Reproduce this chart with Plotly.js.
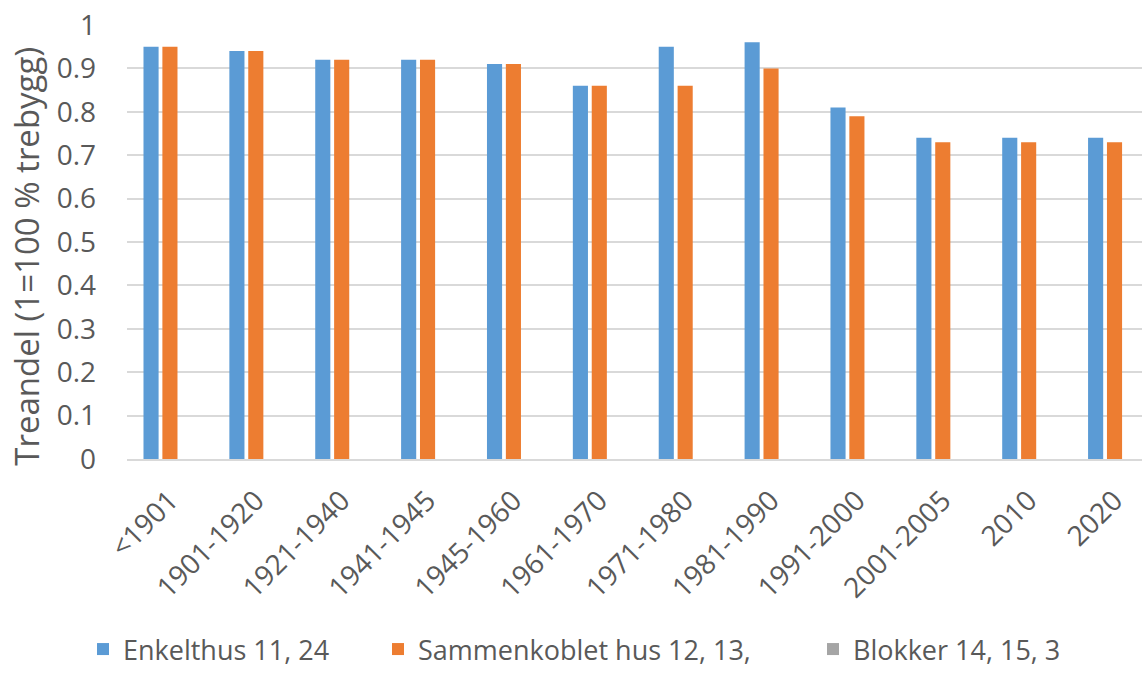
<!DOCTYPE html>
<html>
<head>
<meta charset="utf-8">
<script src="https://cdn.plot.ly/plotly-3.0.1.min.js"></script>
<style>
  html, body { margin: 0; padding: 0; background: #ffffff; overflow: hidden; }
  #chart { width: 1142px; height: 674px; }
</style>
</head>
<body>
<div id="chart"></div>
<script>
// Construction periods
const categories = ['<1901', '1901-1920', '1921-1940', '1941-1945', '1945-1960', '1961-1970',
                    '1971-1980', '1981-1990', '1991-2000', '2001-2005', '2010', '2020'];

// Share of timber construction per building type (1 = 100 % trebygg)
const enkelthus    = [0.95, 0.94, 0.92, 0.92, 0.91, 0.86, 0.95, 0.96, 0.81, 0.74, 0.74, 0.74];
const sammenkoblet = [0.95, 0.94, 0.92, 0.92, 0.91, 0.86, 0.86, 0.90, 0.79, 0.73, 0.73, 0.73];
const blokker      = [null, null, null, null, null, null, null, null, null, null, null, null];

const seriesNames = ['Enkelthus 11, 24', 'Sammenkoblet hus 12, 13,', 'Blokker 14, 15, 3'];
const yTitle = 'Treandel (1=100 % trebygg)';

const FONT = '"Open Sans", "Noto Sans", sans-serif';
const TEXT = '#595959';
const GRID = '#d9d9d9';

const traces = [
  { type: 'bar', name: seriesNames[0], x: categories, y: enkelthus,
    marker: { color: '#5b9bd5' }, legend: 'legend', hoverinfo: 'x+y' },
  { type: 'bar', name: seriesNames[1], x: categories, y: sammenkoblet,
    marker: { color: '#ed7d31' }, legend: 'legend2', hoverinfo: 'x+y' },
  { type: 'bar', name: seriesNames[2], x: categories, y: blokker,
    marker: { color: '#a5a5a5' }, legend: 'legend3', hoverinfo: 'x+y' }
];

// One legend box per series so each entry sits at its own horizontal position
function legendAt(x) {
  return {
    orientation: 'h', xref: 'container', yref: 'container',
    x: x, xanchor: 'left', y: -0.006, yanchor: 'bottom',
    bgcolor: 'rgba(0,0,0,0)', borderwidth: 0,
    font: { family: FONT, size: 27, color: TEXT }
  };
}

const layout = {
  width: 1142,
  height: 674,
  margin: { l: 127, r: 0, t: 25, b: 215, pad: 0 },
  paper_bgcolor: '#ffffff',
  plot_bgcolor: '#ffffff',
  barmode: 'group',
  bargap: 0.34,
  bargroupgap: 0.2,
  showlegend: true,
  legend: legendAt(0.0727),
  legend2: legendAt(0.331),
  legend3: legendAt(0.7119),
  xaxis: {
    type: 'category',
    range: [-0.5, 11.32],
    tickangle: -45,
    ticks: '',
    showgrid: false,
    zeroline: false,
    showline: true,
    linecolor: GRID,
    linewidth: 2,
    ticklabelstandoff: 12,
    automargin: false,
    tickfont: { family: FONT, size: 28, color: TEXT }
  },
  yaxis: {
    range: [0, 1],
    dtick: 0.1,
    tick0: 0,
    ticks: '',
    showgrid: true,
    gridcolor: GRID,
    gridwidth: 2,
    zeroline: false,
    showline: false,
    automargin: false,
    ticklabelstandoff: 30,
    tickfont: { family: FONT, size: 28, color: TEXT }
  },
  annotations: [{
    text: yTitle,
    textangle: -90,
    xref: 'paper', yref: 'paper',
    x: -0.0985, xanchor: 'center',
    y: 0.466, yanchor: 'middle',
    showarrow: false,
    font: { family: FONT, size: 33, color: TEXT }
  }]
};

Plotly.newPlot('chart', traces, layout, { displayModeBar: false, staticPlot: true });
</script>
</body>
</html>
